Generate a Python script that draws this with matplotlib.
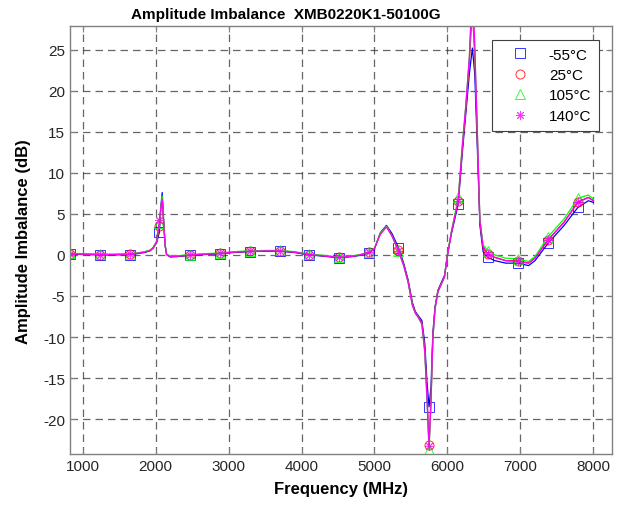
import numpy as np
import matplotlib
matplotlib.use("Agg")
import matplotlib.pyplot as plt

plt.rcParams['font.family'] = ['Liberation Sans', 'DejaVu Sans']
plt.rcParams['axes.unicode_minus'] = False

# frequency points of the traces (MHz)
freq = [826, 1000, 1237, 1440, 1645, 1745, 1850, 1925, 1968, 2014,
        2052, 2070, 2090, 2110, 2130, 2150, 2200, 2300, 2470, 2680,
        2881, 3080, 3287, 3500, 3698, 3900, 4106, 4300, 4508, 4700,
        4800, 4928, 5000, 5080, 5164, 5240, 5328, 5400, 5460, 5520,
        5560, 5600, 5650, 5690, 5720, 5748, 5775, 5800, 5830, 5870,
        5920, 5960, 6000, 6055, 6148, 6200, 6250, 6300, 6342, 6375,
        6410, 6445, 6489, 6556, 6650, 6800, 6967, 7112, 7200, 7378,
        7600, 7789, 7932, 8000]

# amplitude imbalance (dB) per temperature
imb_m55 = [0.10, 0.05, 0.00, 0.00, 0.05, 0.15, 0.30, 0.50, 0.85, 1.50,
           2.8, 5.8, 7.6, 4.2, 1.2, 0.05, -0.25, -0.2, -0.05, 0.05,
           0.15, 0.3, 0.4, 0.45, 0.45, 0.3, 0.0, -0.15, -0.35, -0.2,
           -0.05, 0.25, 0.75, 2.7, 3.6, 2.6, 0.9, -1.0, -3.0, -5.8,
           -6.9, -7.4, -8.0, -10.8, -15.5, -18.5, -16.0, -9.5, -6.3, -4.3,
           -3.3, -2.5, 0.0, 2.6, 6.2, 12.0, 17.0, 22.0, 25.2, 22.0,
           13.0, 3.6, 0.4, -0.3, -0.7, -1.0, -1.0, -1.3, -0.7, 1.4,
           3.6, 5.8, 6.6, 6.4]
imb_25 = [0.15, 0.10, 0.05, 0.05, 0.10, 0.20, 0.35, 0.55, 0.90, 1.60,
          3.5, 5.5, 7.0, 4.0, 1.2, 0.1, -0.2, -0.15, 0.0, 0.1,
          0.2, 0.35, 0.45, 0.5, 0.5, 0.35, 0.05, -0.1, -0.3, -0.15,
          0.0, 0.3, 0.8, 2.6, 3.5, 2.4, 0.6, -1.2, -3.2, -6.0,
          -7.0, -7.5, -8.3, -11.5, -17.0, -23.2, -17.5, -10.0, -6.5, -4.4,
          -3.4, -2.6, 0.0, 2.8, 6.6, 12.5, 17.5, 23.5, 30.0, 24.0,
          14.0, 4.0, 0.8, 0.1, -0.3, -0.7, -0.7, -1.0, -0.4, 1.8,
          4.0, 6.4, 7.0, 6.6]
imb_105 = [0.2, 0.15, 0.1, 0.1, 0.15, 0.25, 0.4, 0.6, 0.95, 1.7,
           3.9, 5.6, 7.2, 4.0, 1.2, 0.1, -0.15, -0.1, 0.05, 0.15,
           0.25, 0.4, 0.5, 0.55, 0.55, 0.4, 0.1, -0.05, -0.25, -0.1,
           0.05, 0.35, 0.85, 2.6, 3.5, 2.3, 0.5, -1.3, -3.3, -6.1,
           -7.1, -7.6, -8.5, -12.0, -17.8, -23.8, -18.0, -10.3, -6.6, -4.5,
           -3.5, -2.7, 0.0, 2.9, 7.0, 13.0, 18.0, 24.0, 32.0, 25.0,
           15.0, 4.4, 1.2, 0.5, 0.0, -0.4, -0.5, -0.8, -0.2, 2.2,
           4.4, 6.9, 7.3, 6.8]
imb_140 = [0.15, 0.1, 0.05, 0.05, 0.1, 0.2, 0.35, 0.55, 0.9, 1.6,
           4.2, 5.6, 6.8, 3.8, 1.1, 0.05, -0.2, -0.15, 0.0, 0.1,
           0.2, 0.35, 0.45, 0.5, 0.5, 0.35, 0.05, -0.1, -0.3, -0.15,
           0.0, 0.3, 0.8, 2.5, 3.4, 2.3, 0.5, -1.3, -3.3, -6.2,
           -7.1, -7.6, -8.4, -11.8, -17.5, -23.3, -17.8, -10.2, -6.6, -4.5,
           -3.5, -2.7, -0.1, 2.8, 6.6, 12.8, 18.0, 24.0, 33.0, 25.5,
           15.0, 4.2, 1.0, 0.1, -0.3, -0.7, -0.8, -1.0, -0.4, 1.8,
           4.0, 6.5, 7.0, 6.6]

# frequencies where markers sit
marker_freq = [826, 1237, 1645, 2052, 2470, 2881, 3287, 3698, 4106, 4508,
               4928, 5328, 5748, 6148, 6556, 6967, 7378, 7789]

labels = ['-55°C', '25°C', '105°C', '140°C']
colors = ['#0000ff', '#ff0000', '#00ff00', '#ff00ff']
markers = ['s', 'o', '^', (8, 2, 0)]

freq = np.array(freq)
series = [np.array(imb_m55), np.array(imb_25), np.array(imb_105), np.array(imb_140)]
idx = np.where(np.isin(freq, marker_freq))[0]

fig = plt.figure(figsize=(6.23, 5.10), dpi=100)
ax = fig.add_axes([70/623, 1 - 455/510, 542/623, (455 - 27.3)/510])

handles = []
for vals, c, m, lab in zip(series, colors, markers, labels):
    ax.plot(freq, vals, '-', color=c, lw=0.9)
    h, = ax.plot(freq[idx], vals[idx], ls='none', marker=m, color=c,
                 mfc='none', mec=c, ms=6.5, mew=0.7, alpha=0.8, label=lab)
    handles.append(h)

ax.set_xlim(826, 8256)
ax.set_ylim(-24.25, 27.85)
ax.set_xticks(np.arange(1000, 8001, 1000))
ax.set_yticks(np.arange(-20, 26, 5))

ax.grid(True, color='#404040', ls=(0, (6, 4)), lw=0.9, alpha=0.8)
ax.tick_params(direction='in', length=4, width=0.8, colors='#808080',
               labelcolor='#262626', labelsize=11, top=True, right=True)
for sp in ax.spines.values():
    sp.set_color('#808080')
    sp.set_linewidth(1.0)

ax.set_xlabel('Frequency (MHz)', fontsize=12, fontweight='bold', labelpad=6)
ax.set_ylabel('Amplitude Imbalance (dB)', fontsize=12, fontweight='bold', labelpad=8.5)
fig.text(286/623, 1 - 15/510, 'Amplitude Imbalance  XMB0220K1-50100G',
         ha='center', va='center', fontsize=11, fontweight='bold')

leg = ax.legend(handles=handles, loc='upper right', bbox_to_anchor=(0.976, 0.968),
                fontsize=11, frameon=True, fancybox=False, handlelength=2.6,
                handletextpad=0.6, borderpad=0.5, labelspacing=0.42,
                borderaxespad=0)
leg.get_frame().set_edgecolor('#404040')
leg.get_frame().set_linewidth(0.8)
leg.get_frame().set_alpha(1.0)

fig.savefig('out.png', dpi=100)
